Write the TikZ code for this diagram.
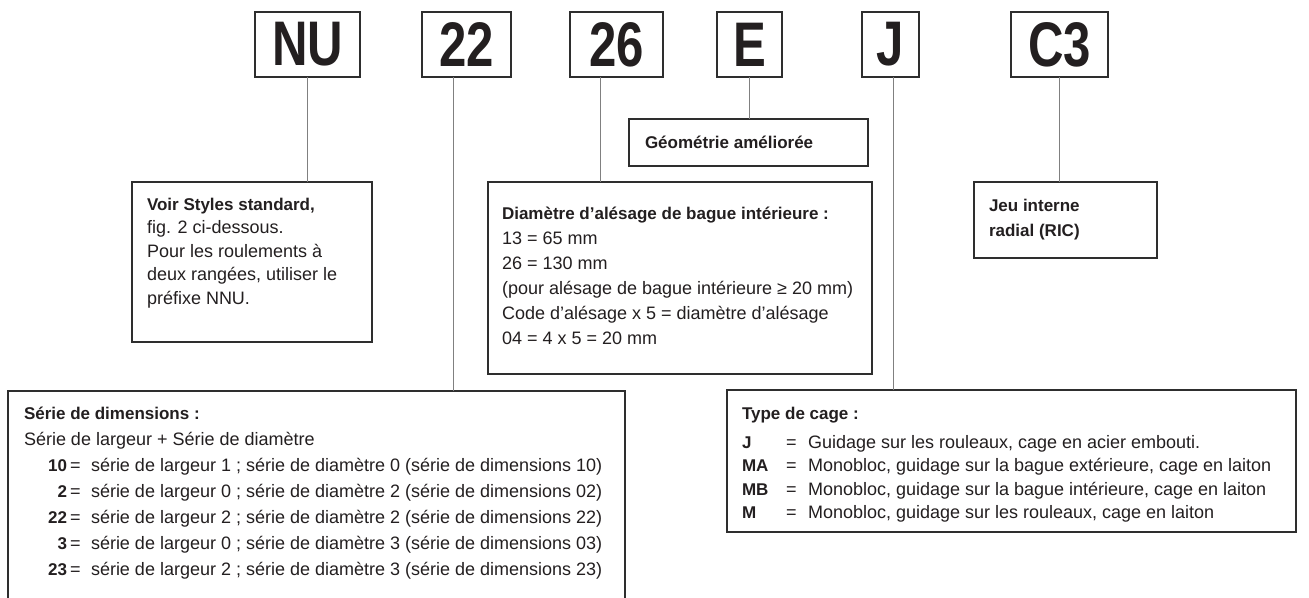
\documentclass[tikz,border=0pt]{standalone}
\usepackage{fontspec}
\setmainfont{Liberation Sans}
\usepackage{graphicx}
\definecolor{ink}{HTML}{231F20}
\definecolor{framecol}{HTML}{2E2E2E}
\definecolor{conncol}{HTML}{808080}
\newcommand\txtfont{\fontsize{18}{20}\selectfont}
\newcommand\hdfont{\fontsize{17}{20}\selectfont\bfseries}
\newcommand\bigfont{\fontsize{63}{63}\selectfont\bfseries}
\newcommand\cond[1]{\scalebox{0.78}[1]{#1}}
\begin{document}
\begin{tikzpicture}[x=1pt,y=-1pt,
  box/.style={draw=framecol,line width=1.3pt,inner sep=0pt,outer sep=0pt},
  topbox/.style={box,minimum height=65pt,text=ink,font=\bigfont},
  txtbox/.style={box,anchor=north west},
  ln/.style={inner sep=0pt,outer sep=0pt,anchor=base west,text=ink,font=\txtfont},
  hd/.style={inner sep=0pt,outer sep=0pt,anchor=base west,text=ink,font=\hdfont},
  conn/.style={draw=conncol,line width=1pt}]
\useasboundingbox (0,0) rectangle (1309,597);
\fill[white] (0,0) rectangle (1309,597);
\clip (0,0) rectangle (1309,597);

% top code boxes
\node[topbox,minimum width=105pt] (nu)  at (307.5,44.5) {\cond{NU}};
\node[topbox,minimum width=89pt]  (b22) at (466.5,44.5) {\cond{22}};
\node[topbox,minimum width=93pt]  (b26) at (616.5,44.5) {\cond{26}};
\node[topbox,minimum width=65pt]  (bE)  at (749.5,44.5) {\cond{E}};
\node[topbox,minimum width=57pt]  (bJ)  at (890.5,44.5) {\cond{J}};
\node[topbox,minimum width=97pt]  (bC3) at (1059.5,44.5) {\cond{C3}};

% description boxes
\node[txtbox,minimum width=240pt,minimum height=160pt] (voir)  at (132,182) {};
\node[txtbox,minimum width=239pt,minimum height=47pt]  (geo)   at (629,119) {};
\node[txtbox,minimum width=384pt,minimum height=192pt] (diam)  at (488,182) {};
\node[txtbox,minimum width=183pt,minimum height=76pt]  (jeu)   at (974,182) {};
\node[txtbox,minimum width=617pt,minimum height=240pt] (serie) at (8,391) {};
\node[txtbox,minimum width=569pt,minimum height=142pt] (cage)  at (727,390) {};

% connectors
\coordinate (c22) at ([xshift=-13.5pt]b22.south);
\coordinate (c26) at ([xshift=-16.5pt]b26.south);
\coordinate (cJ)  at ([xshift=2.5pt]bJ.south);
\draw[conn] (nu.south) -- (nu.south |- voir.north);
\draw[conn] (c22) -- (c22 |- serie.north);
\draw[conn] (c26) -- (c26 |- diam.north);
\draw[conn] (bE.south) -- (bE.south |- geo.north);
\draw[conn] (cJ) -- (cJ |- cage.north);
\draw[conn] (bC3.south) -- (bC3.south |- jeu.north);

% Voir Styles
\node[hd] (v1) at (147,210) {Voir Styles standard,};
\node[ln] (v2) at (147,233.5) {fig. 2 ci-dessous.};
\node[ln] (v3) at (147,257) {Pour les roulements à};
\node[ln] (v4) at (147,280.5) {deux rangées, utiliser le};
\node[ln] (v5) at (147,304) {préfixe NNU.};

% Geometrie
\node[hd] (g1) at (645,148) {Géométrie améliorée};

% Diametre
\node[hd] (d1) at (502,219) {Diamètre d’alésage de bague intérieure :};
\node[ln] (d2) at (502,244) {13 = 65 mm};
\node[ln] (d3) at (502,269) {26 = 130 mm};
\node[ln] (d4) at (502,294) {(pour alésage de bague intérieure ≥ 20 mm)};
\node[ln] (d5) at (502,319) {Code d’alésage x 5 = diamètre d’alésage};
\node[ln] (d6) at (502,344) {04 = 4 x 5 = 20 mm};

% Jeu interne
\node[hd] (j1) at (989,211) {Jeu interne};
\node[hd] (j2) at (989,236) {radial (RIC)};

% Serie de dimensions
\node[hd] (s1) at (24,419) {Série de dimensions :};
\node[ln] (s2) at (24,445) {Série de largeur + Série de diamètre};
\node[hd,anchor=base east] (sa) at (67,471) {10};
\node[ln] (sae) at (70,471) {=};
\node[ln] (sat) at (91,471) {série de largeur 1 ; série de diamètre 0 (série de dimensions 10)};
\node[hd,anchor=base east] (sb) at (67,497) {2};
\node[ln] (sbe) at (70,497) {=};
\node[ln] (sbt) at (91,497) {série de largeur 0 ; série de diamètre 2 (série de dimensions 02)};
\node[hd,anchor=base east] (sc) at (67,523) {22};
\node[ln] (sce) at (70,523) {=};
\node[ln] (sct) at (91,523) {série de largeur 2 ; série de diamètre 2 (série de dimensions 22)};
\node[hd,anchor=base east] (sd) at (67,549) {3};
\node[ln] (sde) at (70,549) {=};
\node[ln] (sdt) at (91,549) {série de largeur 0 ; série de diamètre 3 (série de dimensions 03)};
\node[hd,anchor=base east] (se) at (67,575) {23};
\node[ln] (see) at (70,575) {=};
\node[ln] (set) at (91,575) {série de largeur 2 ; série de diamètre 3 (série de dimensions 23)};

% Type de cage
\node[hd] (t1) at (742,419) {Type de cage :};
\node[hd] (ta) at (742,448) {J};
\node[ln] (tae) at (786,448) {=};
\node[ln] (tat) at (808,448) {Guidage sur les rouleaux, cage en acier embouti.};
\node[hd] (tb) at (742,471.5) {MA};
\node[ln] (tbe) at (786,471.5) {=};
\node[ln] (tbt) at (808,471.5) {Monobloc, guidage sur la bague extérieure, cage en laiton};
\node[hd] (tc) at (742,495) {MB};
\node[ln] (tce) at (786,495) {=};
\node[ln] (tct) at (808,495) {Monobloc, guidage sur la bague intérieure, cage en laiton};
\node[hd] (td) at (742,518.5) {M};
\node[ln] (tde) at (786,518.5) {=};
\node[ln] (tdt) at (808,518.5) {Monobloc, guidage sur les rouleaux, cage en laiton};
\end{tikzpicture}
\end{document}
